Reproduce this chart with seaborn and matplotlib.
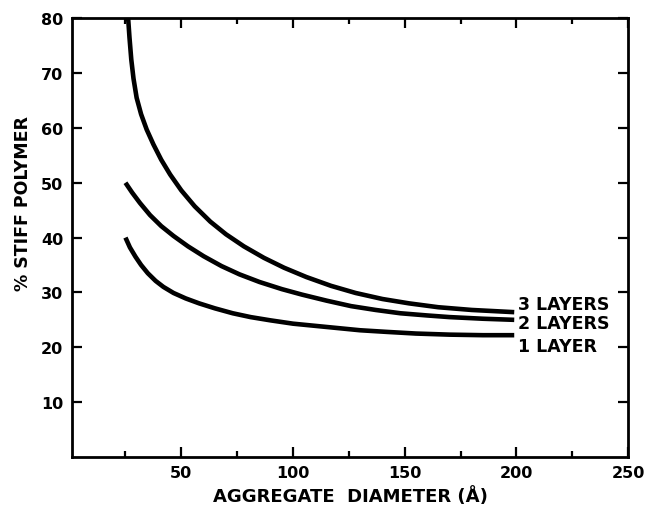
import matplotlib
matplotlib.use("Agg")
import matplotlib.pyplot as plt
from matplotlib.ticker import MultipleLocator
import pandas as pd
import seaborn as sns

# curves (diameter in Angstrom, % stiff polymer)
diam_3 = [26.2, 26.8, 27.6, 28.6, 30, 32, 34.5, 37.5, 41, 45, 50, 56, 63, 70,
          78, 87, 96, 106, 117, 128, 140, 152, 165, 180, 199]
stiff_3 = [80, 76.5, 72.5, 69, 65.5, 62.5, 59.7, 57, 54.2, 51.5, 48.6, 45.7,
           42.9, 40.6, 38.4, 36.3, 34.5, 32.8, 31.2, 29.9, 28.8, 28.0, 27.3,
           26.8, 26.4]

diam_2 = [25, 28, 31.5, 36, 41, 46.5, 53, 60, 68, 76, 85, 95, 104, 115, 126,
          137, 148, 160, 170, 185, 199]
stiff_2 = [50, 48.2, 46.3, 44.1, 42.1, 40.3, 38.4, 36.6, 34.8, 33.3, 31.9,
           30.6, 29.6, 28.5, 27.5, 26.8, 26.2, 25.8, 25.5, 25.2, 25.0]

diam_1 = [25, 27, 29.5, 32, 35, 38.5, 42, 46.5, 52, 58, 65, 73, 81, 90, 100,
          110, 120, 130, 142, 155, 170, 185, 199]
stiff_1 = [40, 38.2, 36.5, 35.0, 33.5, 32.1, 31.0, 29.9, 28.9, 28.0, 27.1,
           26.2, 25.5, 24.9, 24.3, 23.9, 23.5, 23.1, 22.8, 22.5, 22.3, 22.2,
           22.2]

layer_names = ["3 LAYERS", "2 LAYERS", "1 LAYER"]

frames = []
for name, xs, ys in zip(layer_names, [diam_3, diam_2, diam_1],
                        [stiff_3, stiff_2, stiff_1]):
    frames.append(pd.DataFrame({"diameter": xs, "stiff": ys, "layers": name}))
df = pd.concat(frames, ignore_index=True)

sns.set_theme(style="ticks")
plt.rcParams["font.family"] = ["DejaVu Sans"]
plt.rcParams["font.weight"] = "bold"
plt.rcParams["text.color"] = "black"
plt.rcParams["axes.labelcolor"] = "black"
plt.rcParams["xtick.color"] = "black"
plt.rcParams["ytick.color"] = "black"

fig, ax = plt.subplots(figsize=(6.53, 5.06), dpi=100)
fig.subplots_adjust(left=0.110, right=0.962, bottom=0.095, top=0.962)

sns.lineplot(data=df, x="diameter", y="stiff", hue="layers",
             palette=["black"] * 3, linewidth=3.3, estimator=None, sort=False,
             legend=False, ax=ax, solid_capstyle="butt",
             solid_joinstyle="round")

# curve labels at the right-hand ends
label_pos = {"3 LAYERS": 27.9, "2 LAYERS": 24.4, "1 LAYER": 20.2}
for name in layer_names:
    ax.text(200.5, label_pos[name], name, ha="left", va="center",
            fontsize=12.5, fontweight="bold", color="black")

ax.set_xlim(1, 250)
ax.set_ylim(0, 80)
ax.xaxis.set_minor_locator(MultipleLocator(25))
ax.set_xticks([50, 100, 150, 200, 250])
ax.set_yticks([10, 20, 30, 40, 50, 60, 70, 80])

for s in ax.spines.values():
    s.set_linewidth(2)
    s.set_color("black")

ax.tick_params(which="both", direction="in", top=True, right=True,
               width=1.6, color="black", labelsize=11.5, pad=6)
ax.tick_params(which="major", length=7)
ax.tick_params(which="minor", length=4)
for lab in ax.get_xticklabels() + ax.get_yticklabels():
    lab.set_fontweight("bold")

ax.set_xlabel("AGGREGATE  DIAMETER (Å)", fontsize=13, fontweight="bold",
              labelpad=4)
ax.set_ylabel("% STIFF POLYMER", fontsize=12.5, fontweight="bold")
ax.yaxis.set_label_coords(-0.072, 0.58)

fig.savefig("out.png", dpi=100)
